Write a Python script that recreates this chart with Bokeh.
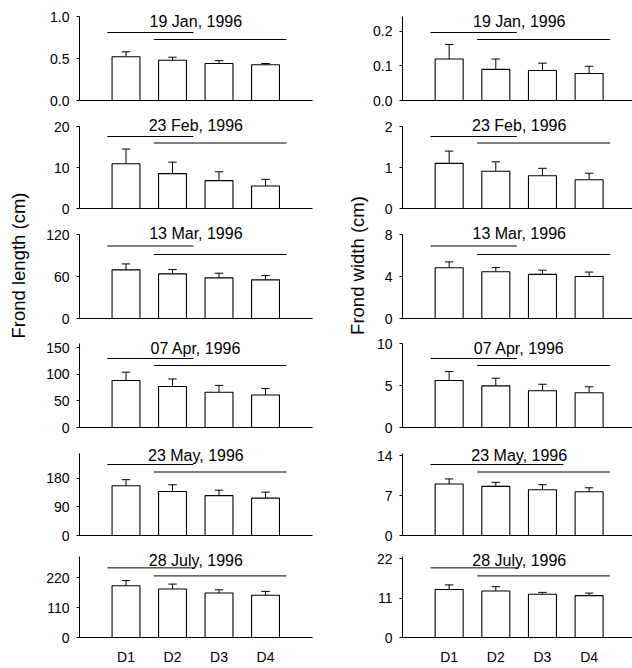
import math
from bokeh.plotting import figure
from bokeh.layouts import row, column
from bokeh.models import FixedTicker, Label, PrintfTickFormatter, Range1d
from bokeh.core.properties import value
from bokeh.embed import file_html
from bokeh.resources import INLINE

# ---------------- data ----------------
categories = ["D1", "D2", "D3", "D4"]
positions = [1, 2, 3, 4]
dates = ["19  Jan, 1996", "23  Feb, 1996", "13  Mar, 1996",
         "07  Apr, 1996", "23  May, 1996", "28  July, 1996"]

# Frond length (cm): means and standard deviations
length_jan = [0.52, 0.48, 0.44, 0.425]
length_jan_sd = [0.06, 0.035, 0.035, 0.015]
length_feb = [10.9, 8.5, 6.8, 5.5]
length_feb_sd = [3.6, 2.8, 2.15, 1.6]
length_mar = [69.5, 63.8, 58.0, 55.2]
length_mar_sd = [8.5, 6.2, 6.7, 6.2]
length_apr = [88, 77, 66, 61]
length_apr_sd = [15.7, 14, 13, 12]
length_may = [156, 138, 125, 117]
length_may_sd = [19, 21, 17, 19]
length_jul = [191, 179, 164, 156]
length_jul_sd = [19, 18, 12, 14]

# Frond width (cm): means and standard deviations
width_jan = [0.12, 0.09, 0.087, 0.078]
width_jan_sd = [0.042, 0.03, 0.021, 0.021]
width_feb = [1.10, 0.91, 0.80, 0.70]
width_feb_sd = [0.30, 0.23, 0.18, 0.16]
width_mar = [4.83, 4.45, 4.2, 4.0]
width_mar_sd = [0.56, 0.41, 0.4, 0.42]
width_apr = [5.6, 4.96, 4.37, 4.13]
width_apr_sd = [1.07, 0.91, 0.78, 0.72]
width_may = [9.0, 8.6, 8.0, 7.65]
width_may_sd = [0.9, 0.7, 0.9, 0.7]
width_jul = [13.4, 13.0, 12.1, 11.7]
width_jul_sd = [1.3, 1.2, 0.5, 0.7]

# y-axis tick labels
length_ticks = [[0, 0.5, 1.0], [0, 10, 20], [0, 60, 120],
                [0, 50, 100, 150], [0, 90, 180], [0, 110, 220]]
width_ticks = [[0, 0.1, 0.2], [0, 1, 2], [0, 4, 8],
               [0, 5, 10], [0, 7, 14], [0, 11, 22]]

# homogeneous groups (first, last category) drawn as lines
length_groups = [[(1, 2), (2, 4)]] * 6
width_groups = [[(1, 2), (2, 4)], [(1, 2), (2, 4)], [(1, 2), (2, 4)],
                [(1, 2), (2, 4)], [(1, 3), (2, 4)], [(1, 2), (2, 4)]]

length_label = "Frond length (cm)"
width_label = "Frond width (cm)"

# ---------------- layout ----------------
FONT = "Liberation Sans"
TOTAL_H = 667
length_ymax = [1.0, 20, 120, 157.5, 257, 297]
width_ymax = [0.243, 2, 8, 10, 14.35, 22.5]
length_fmt = ["%.1f", "%d", "%d", "%d", "%d", "%d"]
width_fmt = ["%.1f", "%d", "%d", "%d", "%d", "%d"]
# per row: figure top, axis top, baseline, figure bottom (pixels)
rows_geom = [(0, 16, 100, 112), (112, 126, 208, 220), (220, 234, 318, 329),
             (329, 343, 427, 438), (438, 453, 535, 545), (545, 557, 642, 667)]
title_off = [4.5, -1, -1, 5, 1.5, 4]
line1_off = [16, 10, 11.5, 15, 11, 11.5]
line2_off = [23, 16.5, 20, 22, 18.5, 20]


def panel(means, sds, ticks, ymax, fmt, title, groups, r, fig_w, bl, br, xmax, bottom):
    ftop, atop, base, fbot = rows_geom[r]
    bt = 2
    bb = fbot - base
    axis_h = base - atop
    dpp = ymax / axis_h
    y_end = ymax + (atop - (ftop + bt)) * dpp
    p = figure(width=fig_w, height=fbot - ftop,
               x_range=Range1d(0, xmax), y_range=Range1d(0, y_end),
               output_backend="svg", toolbar_location=None,
               min_border_left=bl, min_border_right=br,
               min_border_top=bt, min_border_bottom=bb)
    p.outline_line_color = None
    p.xgrid.visible = False
    p.ygrid.visible = False
    p.background_fill_color = "white"
    p.border_fill_color = "white"

    tops = [m + s for m, s in zip(means, sds)]
    p.segment(x0=positions, y0=means, x1=positions, y1=tops,
              line_color="black", line_width=1)
    p.segment(x0=[x - 0.09 for x in positions], y0=tops,
              x1=[x + 0.09 for x in positions], y1=tops,
              line_color="black", line_width=1)
    p.vbar(x=positions, top=means, bottom=0, width=0.6,
           fill_color="white", line_color="black", line_width=1.1)

    offs = [line1_off[r], line2_off[r]]
    for (a, b), off in zip(groups, offs):
        y = ymax - off * dpp
        p.segment(x0=[a - 0.4], y0=[y], x1=[b + 0.45], y1=[y],
                  line_color="black", line_width=1)

    p.add_layout(Label(x=2.55, y=ymax - title_off[r] * dpp, text=title,
                       text_align="center", text_baseline="middle",
                       text_font=FONT, text_font_size="16px",
                       text_color="black"))

    ya = p.yaxis[0]
    ya.bounds = (0, ymax)
    ya.ticker = FixedTicker(ticks=ticks)
    ya.formatter = PrintfTickFormatter(format=fmt)
    ya.minor_tick_line_color = None
    ya.major_tick_in = 0
    ya.major_tick_out = 3
    ya.major_label_standoff = 7
    ya.major_label_text_font = FONT
    ya.major_label_text_font_size = "14px"
    ya.major_label_text_color = "black"
    ya.axis_line_color = "black"
    ya.major_tick_line_color = "black"

    xa = p.xaxis[0]
    xa.minor_tick_line_color = None
    xa.major_tick_line_color = None
    xa.axis_line_color = "black"
    xa.major_tick_in = 0
    xa.major_tick_out = 0
    if bottom:
        xa.ticker = FixedTicker(ticks=positions)
        xa.major_label_overrides = {pos: c for pos, c in zip(positions, categories)}
        xa.major_label_standoff = 11
        xa.major_label_text_font = FONT
        xa.major_label_text_font_size = "14px"
        xa.major_label_text_color = "black"
    else:
        xa.ticker = FixedTicker(ticks=[])
        xa.major_label_standoff = 0
        xa.major_label_text_font_size = "0px"
    return p


def label_fig(text, w, xc, yc_from_top):
    p = figure(width=w, height=TOTAL_H, x_range=Range1d(0, w),
               y_range=Range1d(0, TOTAL_H), x_axis_type=None, y_axis_type=None,
               output_backend="svg", toolbar_location=None,
               min_border_left=0, min_border_right=0,
               min_border_top=0, min_border_bottom=0)
    p.outline_line_color = None
    p.xgrid.visible = False
    p.ygrid.visible = False
    p.text(x=[xc], y=[TOTAL_H - yc_from_top], text=[text], angle=math.pi / 2,
           text_align="center", text_baseline="middle",
           text_font=value(FONT), text_font_size="18.5px", text_color="black")
    return p


length_means = [length_jan, length_feb, length_mar, length_apr, length_may, length_jul]
length_sds = [length_jan_sd, length_feb_sd, length_mar_sd, length_apr_sd, length_may_sd, length_jul_sd]
width_means = [width_jan, width_feb, width_mar, width_apr, width_may, width_jul]
width_sds = [width_jan_sd, width_feb_sd, width_mar_sd, width_apr_sd, width_may_sd, width_jul_sd]

left_panels = []
right_panels = []
for r in range(6):
    left_panels.append(panel(length_means[r], length_sds[r], length_ticks[r],
                             length_ymax[r], length_fmt[r], dates[r],
                             length_groups[r], r, 290, 49, 8, 5.01, r == 5))
    right_panels.append(panel(width_means[r], width_sds[r], width_ticks[r],
                              width_ymax[r], width_fmt[r], dates[r],
                              width_groups[r], r, 262, 32, 0, 4.93, r == 5))

layout = row(label_fig(length_label, 30, 18, 265),
             column(*left_panels),
             label_fig(width_label, 50, 37, 265),
             column(*right_panels))

with open("out.html", "w") as f:
    f.write(file_html(layout, INLINE))
